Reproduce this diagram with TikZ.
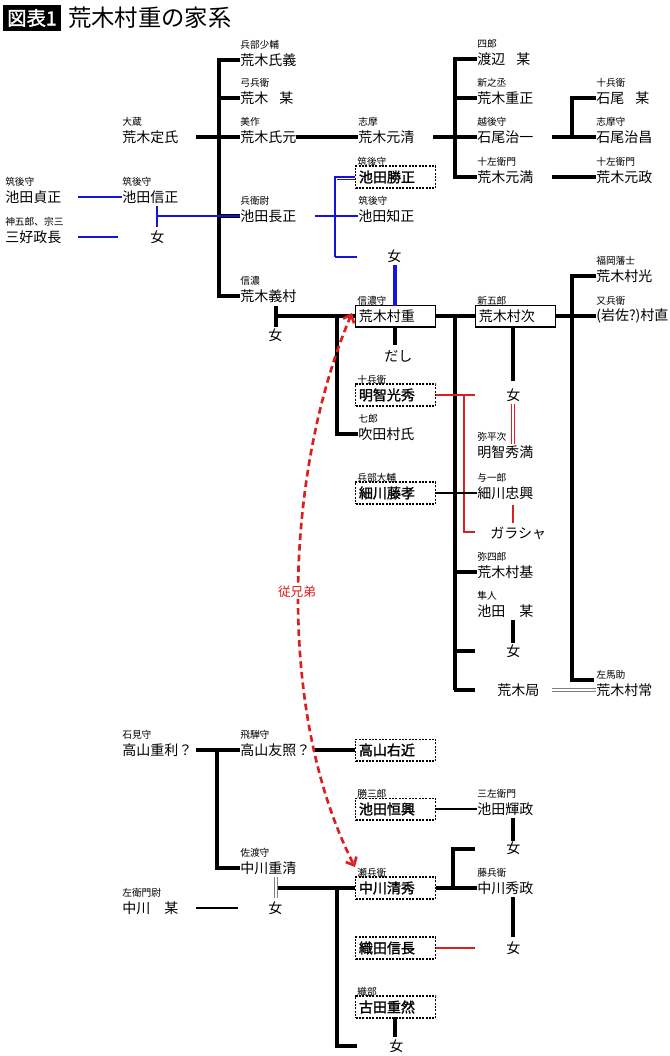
\documentclass[tikz,border=0pt]{standalone}
\usepackage{fontspec}
\setmainfont{Noto Sans CJK JP}
\newfontfamily\jpb{Noto Sans CJK JP}[FakeBold=1.6]
\usetikzlibrary{arrows.meta}
\definecolor{redl}{RGB}{220,30,30}
\definecolor{bluel}{RGB}{20,20,220}
\begin{document}
\begin{tikzpicture}[x=0.75pt,y=-0.75pt,
 nm/.style={anchor=west,inner sep=0,font=\fontsize{10.5}{11}\selectfont},
 lb/.style={anchor=west,inner sep=0,font=\fontsize{7.3}{8}\selectfont},
 bx/.style={draw,line width=0.9pt,dash pattern=on 1.5pt off 1pt,anchor=west,minimum width=60pt,minimum height=15pt,inner xsep=2pt,text width=55pt,align=left,font=\jpb\fontsize{10.5}{11}\selectfont},
 sb/.style={bx,solid,font=\fontsize{10.5}{11}\selectfont},
 thk/.style={line width=3pt},
 thn/.style={line width=0.8pt},
 blu/.style={bluel,line width=1.6pt},
 rd/.style={redl,line width=0.9pt}]
\useasboundingbox (0,0) rectangle (670,1056);
\def\pn#1#2#3#4#5{\node[nm] (#1) at (#2,#3) {#5};\node[lb] (#1l) at (#2,#3-15) {#4};}
\def\pb#1#2#3#4#5{\node[bx] (#1) at (#2,#3) {#5};\node[lb] (#1l) at (#2+2,#3-15) {#4};}
% title
\node[fill=black,text=white,anchor=west,inner xsep=3pt,minimum height=19pt,font=\jpb\fontsize{14.5}{15}\selectfont] (tt) at (3,18) {図表1};
\node[anchor=west,inner sep=0,font=\fontsize{17.5}{18}\selectfont] (title) at (68,18) {荒木村重の家系};
% left column
\pn{sad}{122}{137}{大蔵}{荒木定氏}
\pn{uji}{240}{60}{兵部少輔}{荒木氏義}
\pn{bo1}{240}{98}{弓兵衛}{荒木\hspace{0.8em}某}
\pn{ujm}{240}{137}{美作}{荒木氏元}
\pn{ngm}{240}{216}{兵衛尉}{池田長正}
\pn{ysm}{240}{296}{信濃}{荒木義村}
\draw[thk] (219,58.5) -- (219,297.5);
\foreach \n in {uji,bo1,ujm,ngm,ysm}{\draw[thk] (217.5,0|-\n.west) -- (\n.west);}
\draw[thk] (196,137) -- (219,137);
% upper right
\pn{mtk}{358}{137}{志摩}{荒木元清}
\draw[thk] (296,137) -- (mtk.west);
\pn{wtn}{477}{59}{四郎}{渡辺\hspace{0.8em}某}
\pn{sgm}{477}{98}{新之丞}{荒木重正}
\pn{ish}{477}{137}{越後守}{石尾治一}
\pn{mtm}{477}{177}{十左衛門}{荒木元満}
\draw[thk] (455,57.5) -- (455,178.5);
\foreach \n in {wtn,sgm,ish,mtm}{\draw[thk] (453.5,0|-\n.west) -- (\n.west);}
\draw[thk] (433,137) -- (455,137);
\pn{isb}{596}{98}{十兵衛}{石尾\hspace{0.8em}某}
\pn{isa}{596}{137}{志摩守}{石尾治昌}
\pn{mtmm}{596}{177}{十左衛門}{荒木元政}
\draw[thk] (552,137) -- (572,137);
\draw[thk] (572,138.5) -- (572,0|-isb.west) -- (isb.west);
\draw[thk] (572,137) -- (isa.west);
\draw[thk] (552,177) -- (mtmm.west);
% blue Ikeda
\pn{sdm}{5}{197}{筑後守}{池田貞正}
\pn{nbm}{122}{197}{筑後守}{池田信正}
\pn{mys}{5}{237}{神五郎、宗三}{三好政長}
\node[nm] (on1) at (150,237) {女};
\draw[blu] (78,197) -- (nbm.west);
\draw[blu] (78,237) -- (118,237);
\draw[blu] (157,206) -- (157,227);
\draw[blu] (157,216) -- (ngm.west);
\pb{ktm}{355}{177}{筑後守}{池田勝正}
\pn{tmm}{358}{216}{筑後守}{池田知正}
\draw[blu] (315,216) -- (335,216);
\draw[blu] (335,257) -- (335,177) -- (ktm.west);
\draw[bluel,line width=0.5pt] (337,179) -- (ktm.west|-0,179);
\draw[blu] (335,216) -- (tmm.west);
\draw[blu] (335,257) -- (357,257);
\node[nm] (on2) at (387,256) {女};
% Araki Murashige row
\node[sb] (mrs) at (355,316) {荒木村重};
\node[lb] (mrsl) at (357,301) {信濃守};
\draw[bluel,line width=2.5pt] (395,265) -- (395,306);
\node[nm] (on3) at (268,335) {女};
\draw[thk] (276,306) -- (276,327);
\draw[thk] (276,316) -- (mrs.west);
\draw[thk] (337,316) -- (337,434) -- (358,434);
\node[nm] (dsh) at (384,356) {だし};
\draw[thk] (395,327) -- (395,345);
\node[sb] (mrt) at (475,316) {荒木村次};
\node[lb] (mrtl) at (477,301) {新五郎};
\draw[thk] (mrs.east) -- (mrt.west);
\draw[thk] (455,316) -- (455,690);
\pn{fki}{358}{434}{七郎}{吹田村氏}
\pn{mrm}{596}{276}{福岡藩士}{荒木村光}
\pn{mrn}{596}{316}{又兵衛}{(岩佐?)村直}
\pn{mrj}{596}{690}{左馬助}{荒木村常}
\draw[thk] (mrt.east) -- (mrn.west);
\draw[thk] (mrm.west) -- (572,276) -- (572,680) -- (594,680);
\node[nm] (on4) at (506,395) {女};
\draw[thk] (513,327) -- (513,381);
\pn{hdm}{477}{452}{弥平次}{明智秀満}
\draw[redl,line width=0.5pt,double,double distance=1.5pt] (513,404) -- (513,444);
\pb{mtd}{355}{395}{十兵衛}{明智光秀}
\draw[rd] (mtd.east) -- (475,395);
\draw[rd] (464,395) -- (464,532) -- (475,532);
\pb{fjt}{355}{493}{兵部大輔}{細川藤孝}
\pn{tdo}{477}{493}{与一郎}{細川忠興}
\draw[thn] (fjt.east) -- (tdo.west);
\node[nm] (grs) at (490,533) {ガラシャ};
\draw[rd] (513,505) -- (513,523);
\pn{mrk}{477}{572}{弥四郎}{荒木村基}
\draw[thk] (453.5,572) -- (mrk.west);
\pn{ikb}{477}{611}{隼人}{池田\hspace{1em}某}
\draw[thk] (513,620) -- (513,643);
\node[nm] (on5) at (506,651) {女};
\draw[thk] (453.5,651) -- (475,651);
\node[nm] (akt) at (497,690) {荒木局};
\draw[thk] (453.5,690) -- (475,690);
\draw[gray,line width=0.6pt,double=white,double distance=1.8pt] (552,690) -- (mrj.west);
% cousin arrow
\coordinate (ca) at (352,313);
\coordinate (cb) at (355,867);
\draw[redl,line width=2pt,dash pattern=on 5pt off 3pt,{Straight Barb[length=5pt,width=9pt]}-{Straight Barb[length=5pt,width=9pt]}] (ca) .. controls (285,470) and (275,710) .. (cb);
\node[redl,fill=white,inner sep=1pt,font=\fontsize{9.5}{10}\selectfont] (itk) at (297,592) {従兄弟};
% bottom section
\pn{tks}{122}{750}{石見守}{高山重利？}
\pn{tkt}{240}{750}{飛騨守}{高山友照？}
\pn{nks}{240}{868}{佐渡守}{中川重清}
\draw[thk] (196,750) -- (tkt.west);
\draw[thk] (217,750) -- (217,868) -- (nks.west);
\node[bx] (ukn) at (355,750) {高山右近};
\draw[thk] (315,750) -- (ukn.west);
\pb{tso}{355}{809}{勝三郎}{池田恒興}
\pn{tms}{477}{809}{三左衛門}{池田輝政}
\draw[thn] (tso.east) -- (tms.west);
\draw[thk] (513,818) -- (513,841);
\node[nm] (on6) at (506,848) {女};
\pb{kyh}{355}{888}{瀬兵衛}{中川清秀}
\pn{hdms}{477}{888}{藤兵衛}{中川秀政}
\draw[thk] (kyh.east) -- (hdms.west);
\draw[thk] (453,888) -- (453,849) -- (475,849);
\draw[thk] (513,897) -- (513,937);
\node[nm] (on7) at (506,948) {女};
\pn{nkb}{122}{908}{左衛門尉}{中川\hspace{1em}某}
\draw[thn] (196,908) -- (238,908);
\node[nm] (on8) at (268,908) {女};
\draw[gray,line width=0.5pt,double=white,double distance=1.5pt] (276,877) -- (276,898);
\draw[thk] (278,888) -- (kyh.west);
\draw[thk] (337,888) -- (337,1046) -- (357,1046);
\node[bx] (nbn) at (355,948) {織田信長};
\draw[rd] (nbn.east) -- (475,948);
\pb{fsg}{355}{1007}{織部}{古田重然}
\draw[thk] (395,1017) -- (395,1037);
\node[nm] (on9) at (389,1046) {女};
\end{tikzpicture}
\end{document}
